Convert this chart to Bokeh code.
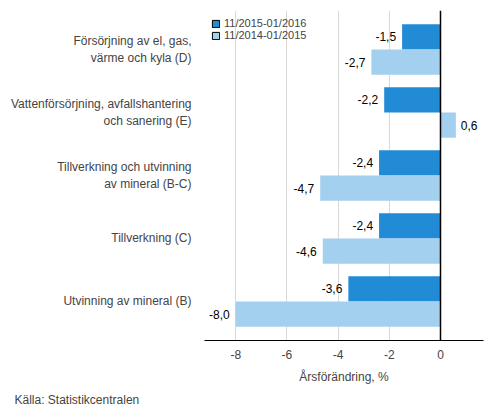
from bokeh.plotting import figure
from bokeh.models import ColumnDataSource, FixedTicker, Span, Legend, LegendItem, Title
from bokeh.core.properties import value
from bokeh.embed import file_html
from bokeh.resources import INLINE

FONT = "Liberation Sans"

# categories listed top to bottom
categories = [
    "Försörjning av el, gas,\nvärme och kyla (D)",
    "Vattenförsörjning, avfallshantering\noch sanering (E)",
    "Tillverkning och utvinning\nav mineral (B-C)",
    "Tillverkning (C)",
    "Utvinning av mineral (B)",
]
series_names = ["11/2015-01/2016", "11/2014-01/2015"]
values_2016 = [-1.5, -2.2, -2.4, -2.4, -3.6]
values_2015 = [-2.7, 0.6, -4.7, -4.6, -8.0]
x_ticks = [-8, -6, -4, -2, 0]

DARK = "#228bd5"
LIGHT = "#a3d0ef"

n = len(categories)
pos = [n - 1 - i for i in range(n)]  # top category at highest y
bar_h = 0.4

p = figure(frame_width=279, frame_height=330, x_range=(-9.22, 1.68), y_range=(-0.62, n - 1 + 0.62),
           output_backend="svg", toolbar_location=None,
           min_border_left=204, min_border_right=2, min_border_top=10, min_border_bottom=10)
p.outline_line_color = None

src1 = ColumnDataSource(dict(y=[v + bar_h / 2 for v in pos], x=values_2016))
src2 = ColumnDataSource(dict(y=[v - bar_h / 2 for v in pos], x=values_2015))
r1 = p.hbar(y="y", right="x", left=0, height=bar_h, source=src1, fill_color=DARK, line_color=None)
r2 = p.hbar(y="y", right="x", left=0, height=bar_h, source=src2, fill_color=LIGHT, line_color=None)

# value labels
for src, vals in ((src1, values_2016), (src2, values_2015)):
    src.data["label"] = [f"{v:.1f}".replace(".", ",") for v in vals]
    src.data["align"] = ["right" if v < 0 else "left" for v in vals]
    src.data["off"] = [-6 if v < 0 else 5 for v in vals]
    p.text(x="x", y="y", text="label", source=src, text_align="align", x_offset="off",
           text_baseline="middle", text_font=value(FONT), text_font_size="12px", text_color="#000000")

p.add_layout(Span(location=0, dimension="height", line_color="black", line_width=1.5))

# x axis
p.xaxis.ticker = FixedTicker(ticks=x_ticks)
p.xaxis.major_label_overrides = {t: str(t) for t in x_ticks}
p.xaxis.axis_label = "Årsförändring, %"
p.xaxis.axis_label_text_font = FONT
p.xaxis.axis_label_text_font_style = "normal"
p.xaxis.axis_label_text_font_size = "12px"
p.xaxis.axis_label_standoff = 8
p.xaxis.major_label_text_font = FONT
p.xaxis.major_label_text_font_size = "12px"
p.xaxis.major_label_standoff = 3
p.xaxis.major_tick_line_color = None
p.xaxis.minor_tick_line_color = None
p.xaxis.axis_line_color = "black"
p.xaxis.axis_line_width = 1.2

# y axis
p.yaxis.ticker = FixedTicker(ticks=pos)
p.yaxis.major_label_overrides = {pos[i]: categories[i] for i in range(n)}
p.yaxis.major_label_text_font = FONT
p.yaxis.major_label_text_font_size = "12px"
p.yaxis.major_label_text_align = "right"
p.yaxis.major_label_standoff = 7
p.yaxis.axis_line_color = None
p.yaxis.major_tick_line_color = None
p.yaxis.minor_tick_line_color = None

p.ygrid.grid_line_color = None
p.xgrid.grid_line_color = "#d9d9d9"
p.xgrid.ticker = FixedTicker(ticks=x_ticks[:-1])

# legend with bordered swatches (stand-in renderers that draw nothing)
nan = float("nan")
d1 = p.hbar(y=[nan], right=[nan], left=0, height=bar_h, fill_color=DARK, line_color="black")
d2 = p.hbar(y=[nan], right=[nan], left=0, height=bar_h, fill_color=LIGHT, line_color="black")
legend = Legend(items=[LegendItem(label=series_names[0], renderers=[d1]),
                       LegendItem(label=series_names[1], renderers=[d2])],
                location="top_left", margin=7, padding=0, spacing=0,
                glyph_width=9, glyph_height=9, label_height=9, label_standoff=4,
                label_text_font=FONT, label_text_font_size="11px",
                background_fill_alpha=0, border_line_color=None)
p.add_layout(legend)

p.add_layout(Title(text="Källa: Statistikcentralen", align="left", offset=-190,
                   text_font=FONT, text_font_size="12px", text_font_style="normal",
                   standoff=9), "below")

open("out.html", "w").write(file_html(p, INLINE))
